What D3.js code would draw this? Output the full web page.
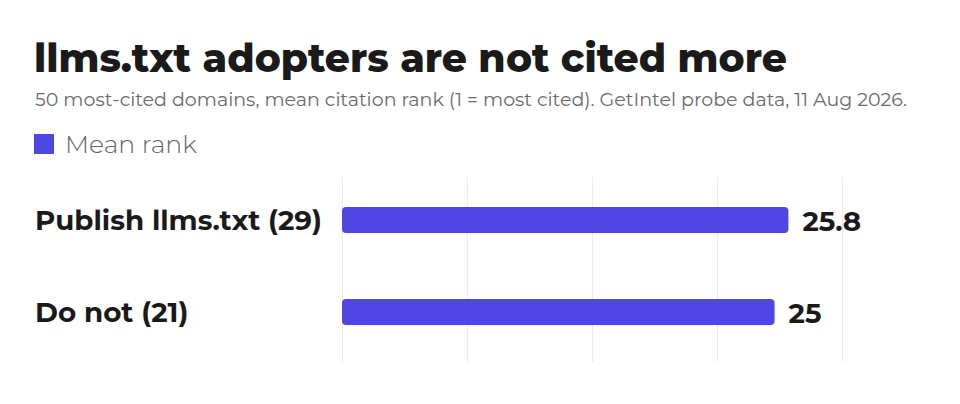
<!DOCTYPE html>
<html>
<head>
<meta charset="utf-8">
<script src="https://cdn.jsdelivr.net/npm/d3@7"></script>
<style>
  html, body { margin: 0; padding: 0; background: #fff; }
  svg { display: block; font-family: Montserrat, 'Open Sans', sans-serif; }
</style>
</head>
<body>
<div id="chart"></div>
<script>
// chart data
var title = 'llms.txt adopters are not cited more';
var subtitle = '50 most-cited domains, mean citation rank (1 = most cited). GetIntel probe data, 11 Aug 2026.';
var seriesName = 'Mean rank';
var categories = ['Publish llms.txt (29)', 'Do not (21)'];
var meanRank = [25.8, 25];

var width = 960;
var height = 404;
var barColor = '#4f46e5';

var svg = d3.select('#chart').append('svg')
            .attr('width', width)
            .attr('height', height);

// shrink/grow a text so it spans roughly the given width
function fitText(sel, target) {
  var size = parseFloat(sel.attr('font-size'));
  var len = sel.node().getComputedTextLength();
  sel.attr('font-size', (size * target / len).toFixed(2));
}

// header
svg.append('text')
   .attr('x', 34).attr('y', 72)
   .attr('font-size', 40).attr('font-weight', 800)
   .attr('fill', '#1a1a1a')
   .text(title)
   .call(fitText, 753);

svg.append('text')
   .attr('x', 35).attr('y', 106)
   .attr('font-size', 17)
   .attr('fill', '#6b6b6b')
   .text(subtitle)
   .call(fitText, 873);

// legend
var legend = svg.append('g').attr('class', 'legend');
legend.append('rect')
      .attr('x', 34).attr('y', 134)
      .attr('width', 20).attr('height', 20)
      .attr('fill', barColor);
legend.append('text')
      .attr('x', 65).attr('y', 153)
      .attr('font-size', 25).attr('font-weight', 300)
      .attr('fill', '#666')
      .text(seriesName)
      .call(fitText, 132);

// scales
var x = d3.scaleLinear()
          .domain([0, d3.max(meanRank) * 1.12])
          .range([342, 842]);

var y = d3.scaleBand()
          .domain(categories)
          .range([161, 371])
          .paddingInner(0.717)
          .paddingOuter(0.5);

// vertical grid, no labels
var grid = d3.axisBottom(x)
             .tickValues(d3.range(5).map(function(i) { return x.domain()[1] * i / 4; }))
             .tickSize(-(362 - 177))
             .tickFormat('');

svg.append('g').attr('class', 'grid')
   .attr('transform', 'translate(0,362)')
   .call(grid)
   .call(function(g) { g.select('.domain').remove(); })
   .selectAll('.tick line')
   .attr('stroke', '#ececf0')
   .attr('stroke-width', 1);

// category labels
svg.append('g').attr('class', 'labels')
   .selectAll('text')
   .data(categories)
   .enter()
   .append('text')
   .attr('x', 35)
   .attr('y', function(d) { return y(d) + y.bandwidth() / 2; })
   .attr('dy', '0.35em')
   .attr('font-size', 26).attr('font-weight', 700)
   .attr('fill', '#1a1a1a')
   .text(function(d) { return d; });

// scale labels to match the first one's width
var first = svg.select('g.labels text');
var labelSize = parseFloat(first.attr('font-size')) * 287 / first.node().getComputedTextLength();
svg.selectAll('g.labels text').attr('font-size', labelSize.toFixed(2));

// bars
svg.append('g').attr('class', 'bars')
   .selectAll('rect')
   .data(meanRank)
   .enter()
   .append('rect')
   .attr('x', x(0))
   .attr('y', function(d, i) { return y(categories[i]); })
   .attr('width', function(d) { return x(d) - x(0); })
   .attr('height', y.bandwidth())
   .attr('rx', 4).attr('ry', 4)
   .attr('fill', barColor);

// value labels
svg.append('g').attr('class', 'values')
   .selectAll('text')
   .data(meanRank)
   .enter()
   .append('text')
   .attr('x', function(d) { return x(d) + 14; })
   .attr('y', function(d, i) { return y(categories[i]) + y.bandwidth() / 2 + 1.5; })
   .attr('dy', '0.35em')
   .attr('font-size', labelSize.toFixed(2)).attr('font-weight', 700)
   .attr('fill', '#1a1a1a')
   .text(function(d) { return d3.format('~g')(d); });
</script>
</body>
</html>
